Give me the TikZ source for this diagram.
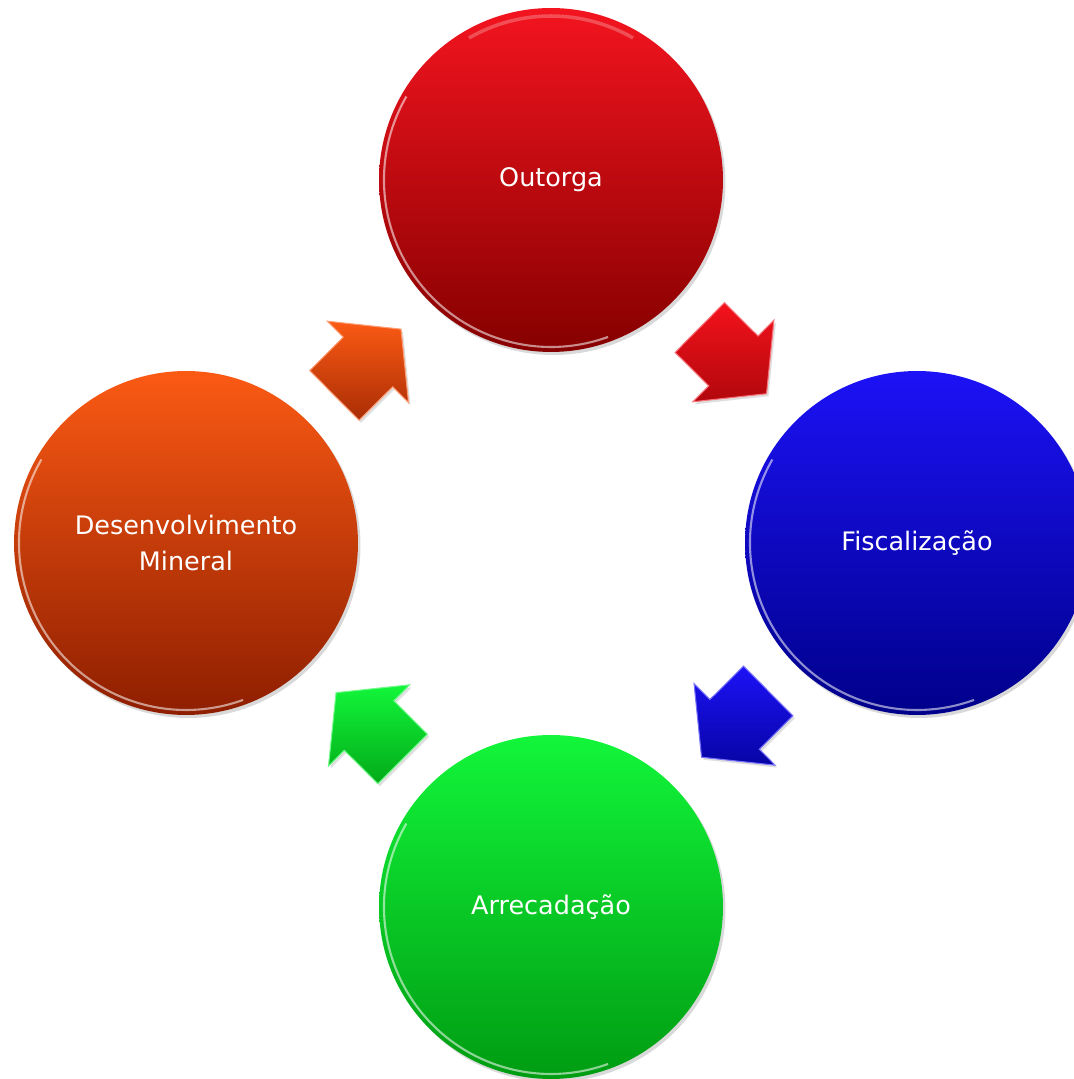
\documentclass[tikz,border=0pt]{standalone}
\usepackage{fontspec}
\setmainfont{DejaVu Sans}
\usetikzlibrary{shapes.arrows,shadows}

\definecolor{vermA}{HTML}{F3141F}
\definecolor{vermB}{HTML}{860000}
\definecolor{azulA}{HTML}{1C12F6}
\definecolor{azulB}{HTML}{00008A}
\definecolor{verdeA}{HTML}{12F63A}
\definecolor{verdeB}{HTML}{009C12}
\definecolor{laranjaA}{HTML}{FB5A14}
\definecolor{laranjaB}{HTML}{8E1E00}

\tikzset{
  circulo/.style={circle, minimum size=6.88cm, inner sep=0pt, text=white, align=center,
    font=\fontsize{14.5}{21}\selectfont,
    drop shadow={shadow xshift=0.05cm, shadow yshift=-0.06cm, opacity=0.3}},
  seta/.style={single arrow, minimum height=1.88cm, inner xsep=0pt, inner ysep=0.69cm,
    single arrow head extend=0.45cm, single arrow tip angle=102, line width=0.6pt,
    pos=0.41, sloped, allow upside down,
    drop shadow={shadow xshift=0.04cm, shadow yshift=-0.05cm, opacity=0.25}},
  brilho/.style={white, opacity=0.55, line width=1.2pt}
}

\begin{document}
\begin{tikzpicture}[x=0.02cm,y=0.02cm]
		\useasboundingbox (0,0) rectangle (1074,1079);
		
		\node[circulo, top color=vermA, bottom color=vermB] (outorga) at (551,899) {Outorga};
		\node[circulo, top color=azulA, bottom color=azulB] (fiscal) at (917,536) {Fiscalização};
		\node[circulo, top color=verdeA, bottom color=verdeB] (arrecad) at (551,172) {Arrecadação};
		\node[circulo, top color=laranjaA, bottom color=laranjaB] (desenv) at (186,536) {Desenvolvimento\\Mineral};
		
		\draw[brilho] (outorga.center) ++(150:167) arc[start angle=150, end angle=290, radius=167];
		\draw[brilho] (fiscal.center) ++(150:167) arc[start angle=150, end angle=290, radius=167];
		\draw[brilho] (arrecad.center) ++(150:167) arc[start angle=150, end angle=290, radius=167];
		\draw[brilho] (desenv.center) ++(150:167) arc[start angle=150, end angle=290, radius=167];
		\draw[brilho, opacity=0.25, line width=2pt] (outorga.center) ++(60:164) arc[start angle=60, end angle=120, radius=164];
		
		\path (outorga) -- (fiscal) node[seta, draw=vermA!60!white,
			top color=vermA!90!red, bottom color=vermB!60!vermA] (s1) {};
		\path (fiscal) -- (arrecad) node[seta, draw=azulA!60!white,
			top color=azulA, bottom color=azulB!75!azulA] (s2) {};
		\path (arrecad) -- (desenv) node[seta, draw=verdeA!60!white,
			top color=verdeA, bottom color=verdeB!85!verdeA] (s3) {};
		\path (desenv) -- (outorga) node[seta, draw=laranjaA!60!white,
			top color=laranjaA, bottom color=laranjaB!75!laranjaA] (s4) {};
		
		\end{tikzpicture}
\end{document}
